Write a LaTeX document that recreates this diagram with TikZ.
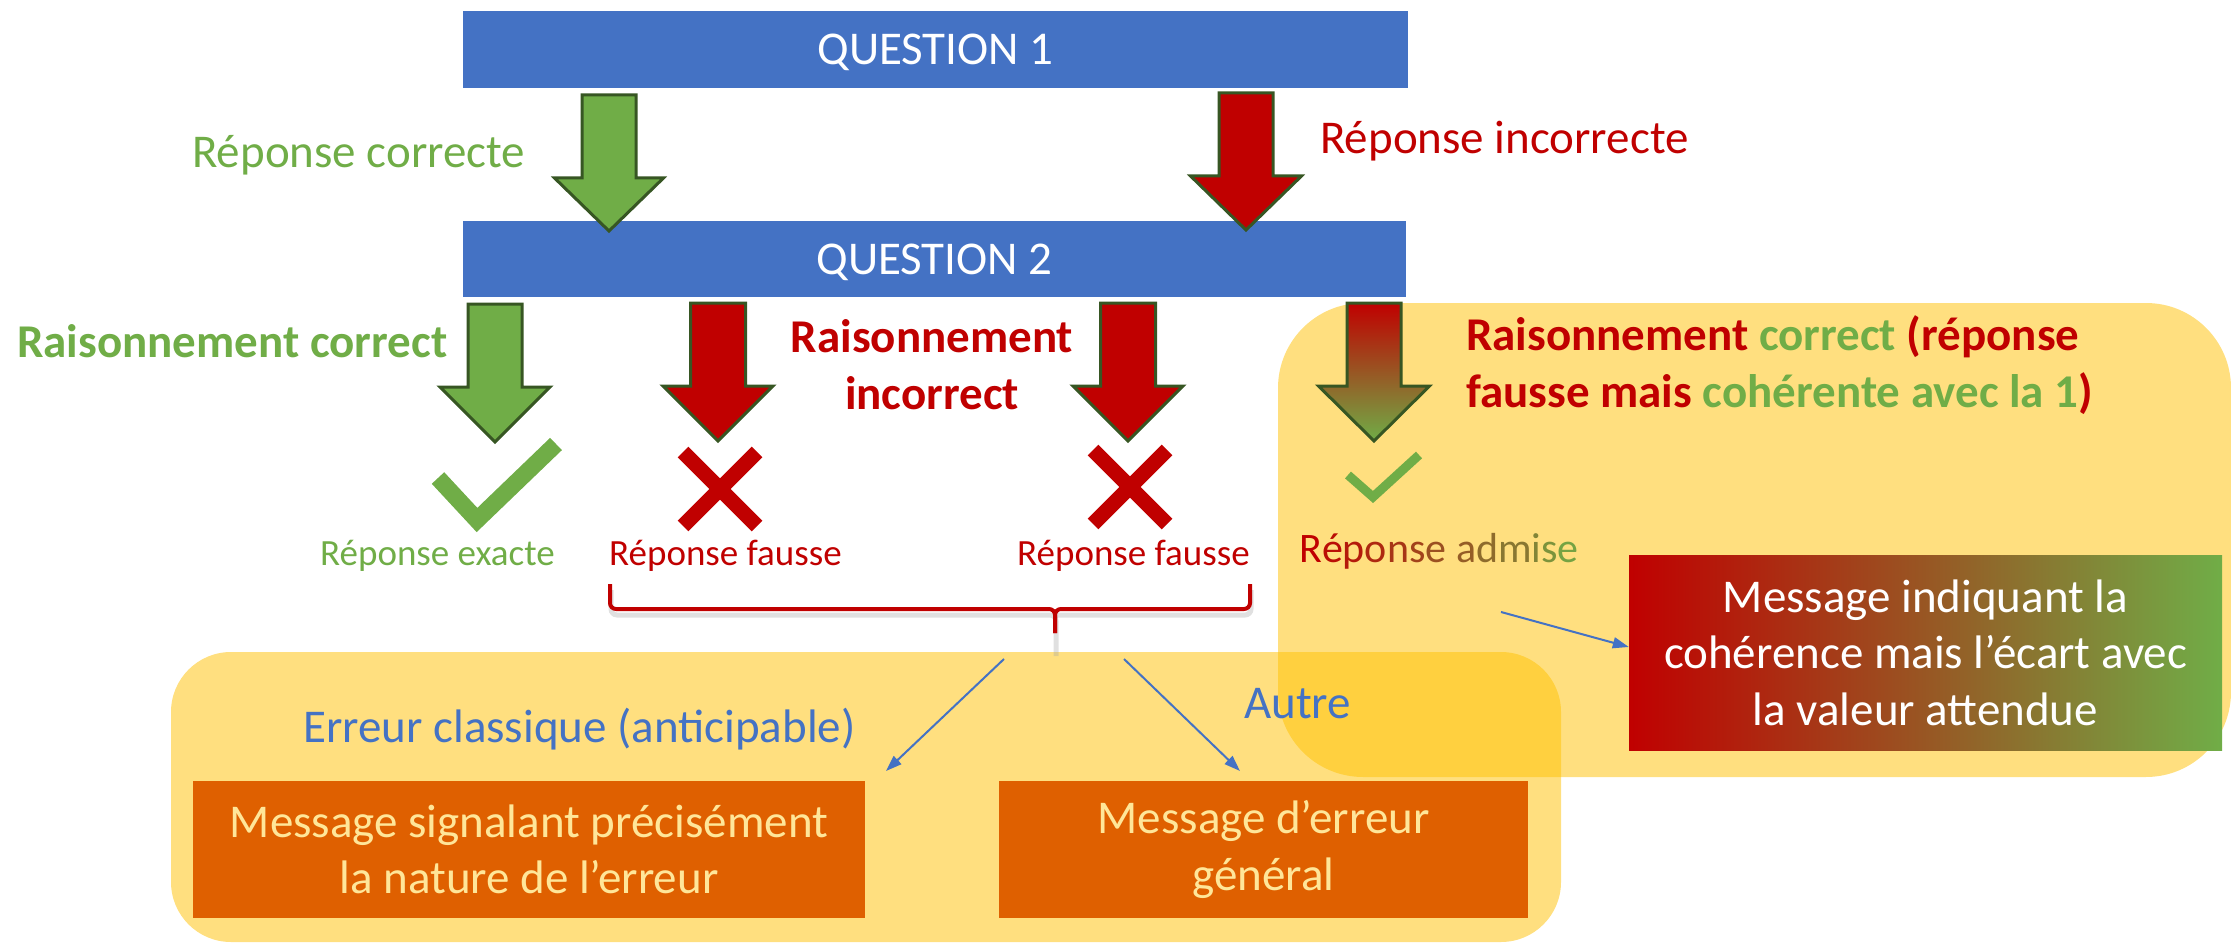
\documentclass[tikz,border=0pt]{standalone}
\usepackage{fontspec}
\setmainfont{Carlito}
\usetikzlibrary{arrows.meta}
\definecolor{qblue}{HTML}{4472C4}
\definecolor{okgreen}{HTML}{70AD47}
\definecolor{kored}{HTML}{C00000}
\definecolor{outl}{HTML}{375623}
\definecolor{orangebox}{HTML}{DF6000}
\definecolor{paleyellow}{HTML}{FFE699}
\definecolor{gold}{HTML}{FFC000}
\newcommand{\bigfont}{\fontsize{47}{56.5}\selectfont}
\newcommand{\smallfont}{\fontsize{37}{44}\selectfont}
\newcommand{\midfont}{\fontsize{42}{50}\selectfont}
% cx, top, headstart, tip, shaft half width, head half width, options
\newcommand{\blockarrow}[7]{%
  \draw[#7] (#1-#5,#2) -- (#1+#5,#2) -- (#1+#5,#3) -- (#1+#6,#3) -- (#1,#4)
    -- (#1-#6,#3) -- (#1-#5,#3) -- cycle;}
\newcommand{\gl}[2]{\textcolor{kored!#1!okgreen}{#2}}
\begin{document}
\begin{tikzpicture}[x=1pt,y=-1pt,
  qbox/.style={fill=qblue, text=white, minimum width=945pt, minimum height=77pt, inner sep=0pt, text depth=0pt, font=\bigfont},
  obox/.style={fill=orangebox, text=paleyellow, minimum height=137pt, inner sep=0pt, align=center, font=\bigfont},
  lbl/.style={inner sep=0pt, anchor=base west},
  clbl/.style={inner sep=0pt, anchor=base},
  arrowline/.style={draw=outl, line width=3pt, line join=miter},
  bluearrow/.style={draw=qblue, line width=2pt, -{Triangle[length=16pt,width=11pt]}},
  panel/.style={fill=gold, fill opacity=0.5},
  tickmark/.style={draw=okgreen, line join=miter, miter limit=10},
  crossmark/.style={draw=kored, line width=15pt}
]
\useasboundingbox (0,0) rectangle (2231,944);

% translucent panels
\fill[panel, rounded corners=60pt] (171,652) rectangle (1561,942);
\fill[panel, rounded corners=85pt] (1278,303) rectangle (2231,777);

% question boxes
\node[qbox] (q1) at (935.5,49.5) {QUESTION 1};
\node[qbox, minimum width=943pt, minimum height=76pt] (q2) at (934.5,259) {QUESTION 2};

% first row of block arrows
\blockarrow{609}{95}{178}{231}{27}{54.5}{arrowline, fill=okgreen}
\blockarrow{1246}{93}{176}{230}{27}{55.5}{arrowline, fill=kored}
\node[lbl, font=\bigfont, text=okgreen] (rcorr) at (192,168) {Réponse correcte};
\node[lbl, font=\bigfont, text=kored] (rinc) at (1320,154) {Réponse incorrecte};

% second row of block arrows
\blockarrow{495}{304}{387}{442}{27}{55}{arrowline, fill=okgreen}
\blockarrow{718}{303}{386}{441}{27.5}{55}{arrowline, fill=kored}
\blockarrow{1128}{303}{386}{441}{27.5}{55}{arrowline, fill=kored}
\blockarrow{1374}{303}{386}{441}{27}{55.5}{arrowline, top color=kored, bottom color=okgreen}

\node[lbl, font=\bigfont\bfseries, text=okgreen] (rcok) at (17,357) {Raisonnement correct};
\node[clbl, font=\bigfont\bfseries, text=kored] (rinc1) at (932,352) {Raisonnement};
\node[clbl, font=\bigfont\bfseries, text=kored] (rinc2) at (932,409) {incorrect};
\node[lbl, font=\bigfont\bfseries] (rmix1) at (1466,350) {\textcolor{kored}{Raisonnement} \textcolor{okgreen}{correct} \textcolor{kored}{(réponse}};
\node[lbl, font=\bigfont\bfseries] (rmix2) at (1466,407) {\textcolor{kored}{fausse mais} \textcolor{okgreen}{cohérente avec la 1}\textcolor{kored}{)}};

% ticks and crosses
\draw[tickmark, line width=17pt] (438,478) -- (477,520) -- (556,444);
\draw[crossmark] (683,452) -- (757,526) (757,452) -- (683,526);
\draw[crossmark] (1093,450) -- (1167,524) (1167,450) -- (1093,524);
\draw[tickmark, line width=9pt] (1348,475) -- (1373,497) -- (1419,455);

% result labels
\node[lbl, font=\smallfont, text=okgreen] (rexact) at (320,565) {Réponse exacte};
\node[lbl, font=\smallfont, text=kored] (rf1) at (609,565) {Réponse fausse};
\node[lbl, font=\smallfont, text=kored] (rf2) at (1017,565) {Réponse fausse};
\node[lbl, font=\midfont] (radm) at (1299,562) {\gl{100}{R}\gl{92}{é}\gl{85}{p}\gl{77}{o}\gl{69}{n}\gl{62}{s}\gl{54}{e} \gl{46}{a}\gl{38}{d}\gl{31}{m}\gl{23}{i}\gl{15}{s}\gl{6}{e}};

% brace
\draw[black!35, opacity=0.35, line width=5pt, rounded corners=6pt] (611,590) -- (611,615) -- (1056,615) -- (1056,656);
\draw[black!35, opacity=0.35, line width=5pt, rounded corners=6pt] (1251,590) -- (1251,615) -- (1056,615);
\draw[kored, line width=4pt, rounded corners=6pt] (610,584) -- (610,609) -- (1055,609) -- (1055,633);
\draw[kored, line width=4pt, rounded corners=6pt] (1250,584) -- (1250,609) -- (1055,609) -- (1055,633);

% lower part
\coordinate (split1) at (1004,659);
\coordinate (split2) at (1124,659);
\coordinate (end1) at (886,771);
\coordinate (end2) at (1240,771);
\draw[bluearrow] (split1) -- (end1);
\draw[bluearrow] (split2) -- (end2);
\node[lbl, font=\bigfont, text=qblue] (eclass) at (303,742) {Erreur classique (anticipable)};
\node[lbl, font=\bigfont, text=qblue] (autre) at (1244,718) {Autre};

\node[obox, minimum width=672pt] (m1) at (529,849.5) {Message signalant précisément\\la nature de l’erreur};
\node[obox, minimum width=529pt] (m2) at (1263.5,849.5) {Message d’erreur\\général};

% right message
\node[minimum width=593pt, minimum height=195pt, inner sep=0pt, left color=kored, right color=okgreen,
      text=white, align=center, font=\bigfont] (m3) at (1925.5,652.5)
      {Message indiquant la\\cohérence mais l’écart avec\\la valeur attendue};
\coordinate (adm) at (1501,612);
\draw[bluearrow] (adm) -- (m3.west |- 0,647);
\end{tikzpicture}
\end{document}
